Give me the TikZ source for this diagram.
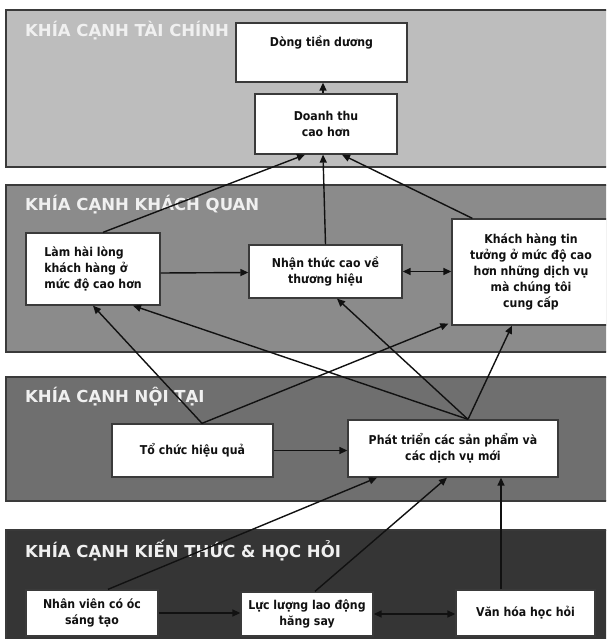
\documentclass[tikz,border=0pt]{standalone}
\usepackage{fontspec}
\setmainfont{DejaVu Sans}
\newfontfamily\boxfont{DejaVu Sans Condensed}
\usetikzlibrary{arrows.meta}

\definecolor{finfill}{HTML}{BDBDBD}
\definecolor{custfill}{HTML}{8B8B8B}
\definecolor{procfill}{HTML}{6F6F6F}
\definecolor{learnfill}{HTML}{353535}
\definecolor{edge}{HTML}{3A3A3A}
\definecolor{ink}{HTML}{111111}
\definecolor{headtext}{HTML}{F0F0F0}

\tikzset{
  panel/.style={draw=edge, line width=1.3pt},
  heading/.style={anchor=west, inner sep=0pt, text=headtext,
    font=\fontsize{16.5}{19}\selectfont\bfseries},
  stepbox/.style={draw=edge, fill=white, line width=1.3pt, inner sep=2pt,
    align=center, text=ink, font=\boxfont\fontsize{12.2}{16}\selectfont\bfseries},
  link/.style={draw=ink, line width=1.4pt, -{Triangle[length=8pt,width=7pt]}},
  twoway/.style={draw=ink, line width=1.4pt,
    {Triangle[length=8pt,width=7pt]}-{Triangle[length=8pt,width=7pt]}},
}

\begin{document}
\begin{tikzpicture}[x=1pt,y=-1pt]
\clip (0,0) rectangle (606,639);
\fill[white] (0,0) rectangle (606,639);

% the four perspective bands
\draw[panel, fill=finfill]   (6,10)  rectangle (614,167);
\draw[panel, fill=custfill]  (6,185) rectangle (614,352);
\draw[panel, fill=procfill]  (6,377) rectangle (614,501);
\draw[panel, fill=learnfill] (6,530) rectangle (614,650);

\node[heading] (hfin)   at (25,31)  {KHÍA CẠNH TÀI CHÍNH};
\node[heading] (hcust)  at (25,205) {KHÍA CẠNH KHÁCH QUAN};
\node[heading] (hproc)  at (25,397) {KHÍA CẠNH NỘI TẠI};
\node[heading] (hlearn) at (25,551) {KHÍA CẠNH KIẾN THỨC \& HỌC HỎI};

% boxes
\node[stepbox, minimum width=171pt, minimum height=59pt] (dong) at (321.5,52.5) {Dòng tiền dương\\[6pt]~};
\node[stepbox, minimum width=142pt, minimum height=60pt] (doanh) at (326,124) {Doanh thu\\cao hơn};

\node[stepbox, minimum width=134pt, minimum height=72pt, align=left] (lam) at (93,269) {Làm hài lòng\\khách hàng ở\\mức độ cao hơn};
\node[stepbox, minimum width=153pt, minimum height=53pt] (nhan) at (325.5,271.5) {Nhận thức cao về\\thương hiệu};
\node[stepbox, minimum width=158pt, minimum height=106pt] (khach) at (531,272) {Khách hàng tin\\tưởng ở mức độ cao\\hơn những dịch vụ\\mà chúng tôi\\cung cấp};

\node[stepbox, minimum width=161pt, minimum height=53pt] (tochuc) at (192.5,450.5) {Tổ chức hiệu quả};
\node[stepbox, minimum width=210pt, minimum height=57pt] (phat) at (453,448.5) {Phát triển các sản phẩm và\\các dịch vụ mới};

\node[stepbox, minimum width=132pt, minimum height=46pt] (nhanvien) at (92,613) {Nhân viên có óc\\sáng tạo};
\node[stepbox, minimum width=132pt, minimum height=44pt] (lucluong) at (307,614) {Lực lượng lao động\\hăng say};
\node[stepbox, minimum width=139pt, minimum height=46pt] (vanhoa) at (525.5,613) {Văn hóa học hỏi};

% connectors
\draw[link] ([xshift=-3pt]doanh.north) -- ([xshift=1.5pt]dong.south);

\draw[link] ([xshift=10pt]lam.north) -- ([xshift=-21pt]doanh.south);
\draw[link] (nhan.north) -- ([xshift=-3pt]doanh.south);
\draw[link] ([xshift=21pt]khach.north west) -- ([xshift=16pt]doanh.south);

\draw[link] ([yshift=-4pt]lam.east) -- ([yshift=-1pt]nhan.west);
\draw[twoway] (nhan.east) -- (nhan.east -| khach.west);

\draw[link] ([xshift=9.5pt]tochuc.north) -- (lam.south);
\draw[link] ([xshift=9.5pt]tochuc.north) -- ([xshift=-3pt,yshift=2pt]khach.south west);
\draw[link] ([xshift=15pt]phat.north) -- ([xshift=40pt]lam.south);
\draw[link] ([xshift=15pt]phat.north) -- ([xshift=11.5pt]nhan.south);
\draw[link] ([xshift=15pt]phat.north) -- ([xshift=-19pt]khach.south);

\draw[link] (tochuc.east) -- (tochuc.east -| phat.west);

\draw[link] ([xshift=16pt]nhanvien.north) -- ([xshift=-76pt]phat.south);
\draw[link] ([xshift=8pt]lucluong.north) -- ([xshift=-6pt]phat.south);
\draw[link] ([xshift=-24.5pt]vanhoa.north) -- ([xshift=48pt]phat.south);

\draw[link] (nhanvien.east) -- (nhanvien.east -| lucluong.west);
\draw[twoway] (lucluong.east) -- (lucluong.east -| vanhoa.west);
\end{tikzpicture}
\end{document}
